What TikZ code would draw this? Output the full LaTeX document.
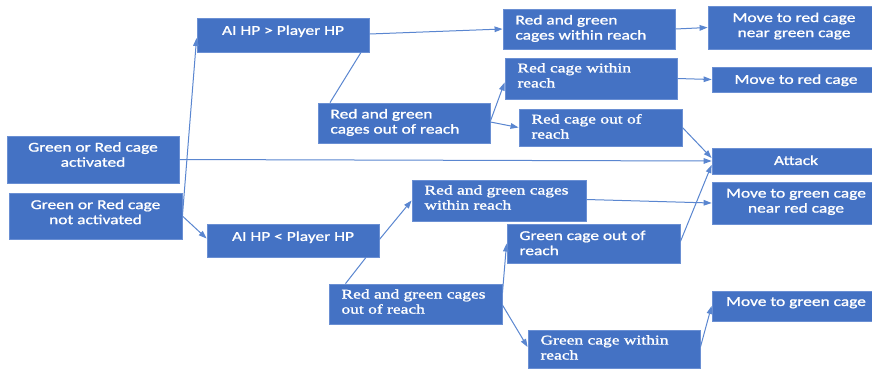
\documentclass[tikz,border=0pt]{standalone}
\usepackage{fontspec}
\usetikzlibrary{arrows.meta}
\newfontfamily\sansf[FakeStretch=1.28,FakeBold=1.2]{Carlito}
\newfontfamily\serf[FakeStretch=1.31,FakeBold=1.4]{Liberation Serif}
\definecolor{boxc}{HTML}{4472C4}
\definecolor{bordc}{HTML}{6A8FD3}
\definecolor{linec}{HTML}{5A86D0}
\newcommand\Ct[2]{\raisebox{#1}[\height][\depth]{\begin{tabular}{@{}c@{}}#2\end{tabular}}}
\newcommand\Lt[3]{\raisebox{#1}[\height][\depth]{\makebox[#2][l]{\begin{tabular}{@{}l@{}}#3\end{tabular}}}}
\begin{document}
\begin{tikzpicture}[x=0.75pt,y=-0.75pt,
  box/.style 2 args={draw=bordc, line width=0.6pt, fill=boxc, text=white,
    minimum width=#1*0.75pt, minimum height=#2*0.75pt, inner ysep=0pt, inner xsep=0pt},
  sbox/.style={font=\sansf\fontsize{10.2}{11.3}\selectfont},
  rbox/.style={font=\serf\fontsize{10}{11.3}\selectfont},
  lbox/.style={inner xsep=9.4pt},
  conn/.style={draw=linec, line width=0.75pt},
  arr/.style={conn, -{Triangle[length=6pt,width=4.2pt]}}]
\useasboundingbox (0,0) rectangle (872,369);
\fill[white] (0,0) rectangle (872,369);
\clip (0,0) rectangle (872,369);

% left column
\node[box={172}{47}, sbox] (act) at (93,159.5) {\Ct{2.5pt}{Green or Red cage\\activated}};
\node[box={173}{46}, sbox] (nact) at (95.5,216) {\Ct{1.8pt}{Green or Red cage\\not activated}};
% HP comparison
\node[box={172}{34}, sbox] (gt) at (283,35) {\Ct{2.4pt}{AI HP > Player HP}};
\node[box={172}{33}, sbox] (lt) at (293,240.5) {\Ct{2pt}{AI HP < Player HP}};
% upper branch
\node[box={172}{40}, sbox, lbox] (o1) at (404,123) {\Lt{0pt}{110.25pt}{Red and green\\cages out of reach}};
\node[box={172}{40}, sbox, lbox] (w1) at (589,29) {\Lt{0pt}{110.25pt}{Red and green\\cages within reach}};
\node[box={172}{41}, rbox, lbox] (rw) at (591,78.5) {\Lt{1.2pt}{110.25pt}{Red cage within\\reach}};
\node[box={163}{37}, rbox, lbox] (ro) at (600.5,127.5) {\Lt{-0.4pt}{103.5pt}{Red cage out of\\reach}};
% lower branch
\node[box={174}{41}, rbox, lbox] (w2) at (499,200.5) {\Lt{1.1pt}{111.75pt}{Red and green cages\\within reach}};
\node[box={173}{39}, sbox, lbox] (go) at (593.5,243.5) {\Lt{-0.8pt}{111pt}{Green cage out of\\reach}};
\node[box={173}{40}, rbox, lbox] (o2) at (415.5,304) {\Lt{0.7pt}{111pt}{Red and green cages\\out of reach}};
\node[box={172}{38}, rbox, lbox] (gw) at (614,349) {\Lt{0pt}{110.25pt}{Green cage within\\reach}};
% right column
\node[box={172}{43}, sbox] (mrg) at (794,27.5) {\Ct{0.7pt}{Move to red cage\\near green cage}};
\node[box={168}{25}, sbox] (mr) at (796,79.5) {\Ct{-1pt}{Move to red cage}};
\node[box={168}{26}, sbox] (atk) at (796,161) {\Ct{-0.7pt}{Attack}};
\node[box={168}{42}, sbox] (mgr) at (796,203) {\Ct{0.7pt}{Move to green cage\\near red cage}};
\node[box={168}{30}, sbox] (mg) at (796,306) {\Ct{2.3pt}{Move to green cage}};

% connectors
\draw[arr] (nact.east) -- ([shift={(0,3)}]gt.west);
\draw[arr] (nact.east) -- ([shift={(0,-2)}]lt.west);
\draw[arr] (act.east) -- (atk.west);
\draw[arr] ([shift={(0,-1)}]gt.east) -- (w1.west);
\draw[conn] ([shift={(78,0)}]gt.south) -- ([shift={(-74,0)}]o1.north);
\draw[arr] ([shift={(0,-2)}]o1.east) -- ([shift={(0,4)}]rw.west);
\draw[arr] ([shift={(0,-1)}]o1.east) -- (ro.west);
\draw[arr] (w1.east) -- (mrg.west);
\draw[arr] (rw.east) -- (mr.west);
\draw[arr] (ro.east) -- ([shift={(0,-3)}]atk.west);
\draw[arr] ([shift={(0,-2)}]go.east) -- ([shift={(0,4)}]atk.west);
\draw[arr] ([shift={(0,-1)}]lt.east) -- (w2.west);
\draw[conn] ([shift={(73,0)}]lt.south) -- ([shift={(-70,0)}]o2.north);
\draw[arr] ([shift={(0,-1)}]w2.east) -- (mgr.west);
\draw[arr] ([shift={(0,-11)}]o2.east) -- (go.west);
\draw[arr] ([shift={(0,1)}]o2.east) -- ([shift={(0,-2)}]gw.west);
\draw[arr] ([shift={(0,-2)}]gw.east) -- (mg.west);
\end{tikzpicture}
\end{document}
